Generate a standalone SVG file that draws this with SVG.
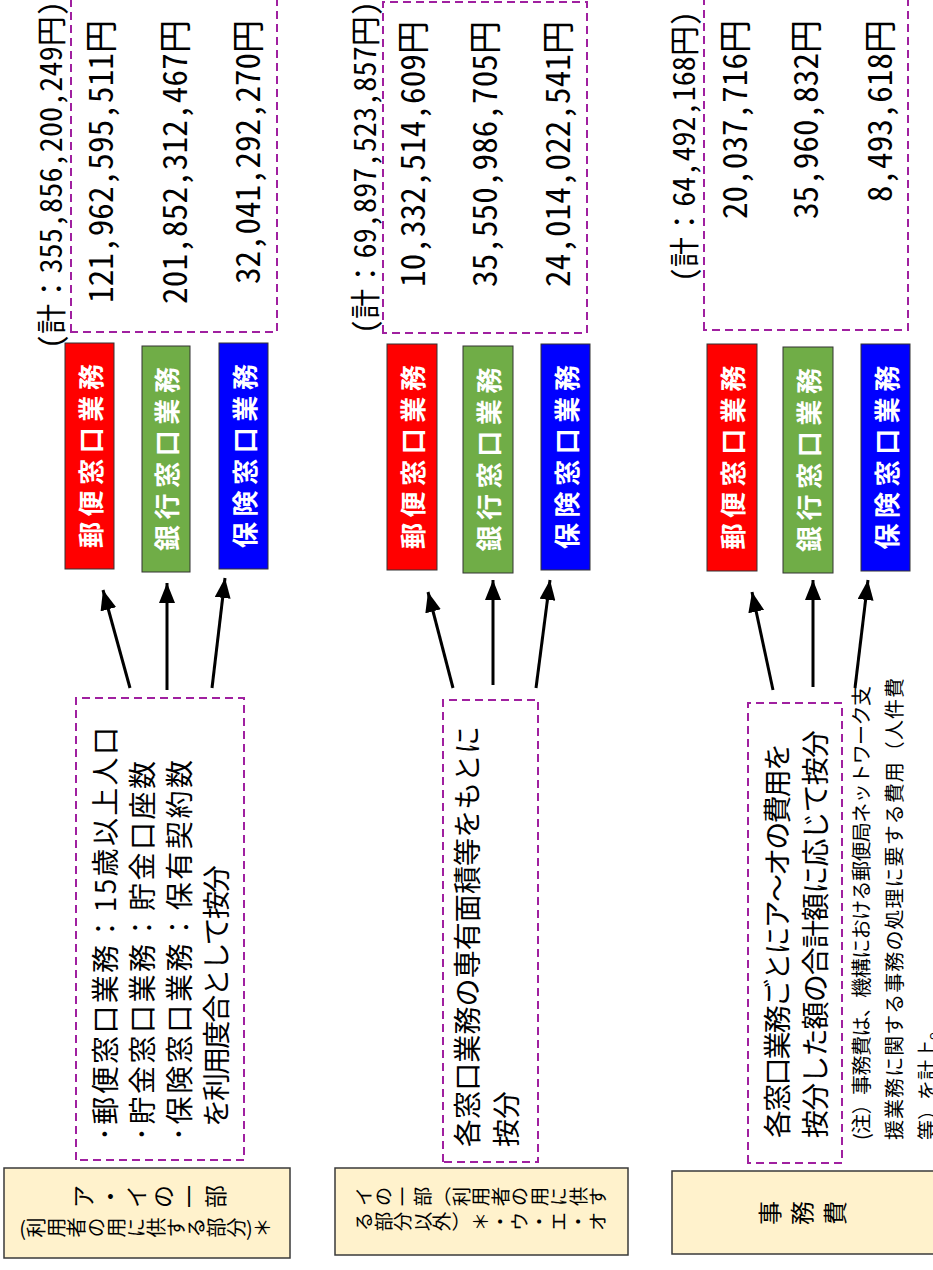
<svg xmlns="http://www.w3.org/2000/svg" width="933" height="1270" viewBox="0 0 933 1270">
<defs>
<style>
text{font-family:'Noto Sans CJK JP','Noto Sans CJK SC',sans-serif;fill:#000}
.beige{fill:#FFF2CC;stroke:#3a3a3a;stroke-width:1.5}
.dash{fill:none;stroke:#A020A0;stroke-width:2;stroke-dasharray:8 5}
.box{stroke:#333;stroke-width:1}
.lbl{font-weight:bold;font-size:26px;fill:#fff}
.num{font-size:33px;font-feature-settings:"hwid" 1}
.tot{font-size:30px;font-feature-settings:"hwid" 1}
.fw{font-feature-settings:normal}
.m{font-size:28px}
.note{font-size:20px}
.v{writing-mode:vertical-rl}
.arr{stroke:#000;stroke-width:3;fill:none;marker-end:url(#ah)}
</style>
<marker id="ah" viewBox="0 0 20 16" markerWidth="20" markerHeight="16" refX="20" refY="8" orient="auto" markerUnits="userSpaceOnUse"><path d="M0,0 L20,8 L0,16 z" fill="#000"/></marker>
</defs>
<rect width="933" height="1270" fill="#fff"/>
<g transform="translate(0,1270) rotate(-90)">

<!-- Panel 1 -->
<g id="p1-source">
<rect class="beige" x="12" y="4" width="90" height="286"/>
<text x="73.5 73.5 73.5 73.5 73.5 73.5" y="92.2 118.7 145.2 171.7 197.7 224.2" text-anchor="middle" style="font-size:23px">ア・イの一部</text>
<text class="v" x="42.5" y="146" text-anchor="middle" style="font-size:20px">(利用者の用に供する部分)＊</text>
</g>
<g id="p1-method">
<rect class="dash" x="110" y="76" width="462" height="168"/>
<text class="m" x="129" y="116" textLength="414" lengthAdjust="spacing">･郵便窓口業務：15歳以上人口</text>
<text class="m" x="129" y="153" textLength="380" lengthAdjust="spacing">･貯金窓口業務：貯金口座数</text>
<text class="m" x="129" y="190" textLength="381" lengthAdjust="spacing">･保険窓口業務：保有契約数</text>
<text class="m" x="143" y="227" textLength="262" lengthAdjust="spacing">を利用度合として按分</text>
</g>
<g id="p1-post"><rect class="box" x="701" y="65" width="226" height="49" fill="#FF0000"/><text class="lbl" x="814" y="100.5" text-anchor="middle" textLength="184">郵便窓口業務</text></g>
<g id="p1-bank"><rect class="box" x="698" y="142" width="226" height="48" fill="#70AD47"/><text class="lbl" x="811" y="177" text-anchor="middle" textLength="184">銀行窓口業務</text></g>
<g id="p1-ins"><rect class="box" x="701" y="219" width="226" height="49" fill="#0000FF"/><text class="lbl" x="814" y="254.5" text-anchor="middle" textLength="184">保険窓口業務</text></g>
<g id="p1-amounts">
<rect class="dash" x="938" y="71" width="350" height="206"/>
<text class="tot" x="1269" y="62" text-anchor="end" textLength="348">(<tspan class="fw">計：</tspan>355,856,200,249<tspan class="fw">円</tspan>)</text>
<text class="num" x="1250" y="113" text-anchor="end" textLength="283">121,962,595,511円</text>
<text class="num" x="1250" y="187" text-anchor="end" textLength="284">201,852,312,467円</text>
<text class="num" x="1250" y="260" text-anchor="end" textLength="264">32,041,292,270円</text>
</g>

<!-- Panel 2 -->
<g id="p2-source">
<rect class="beige" x="15" y="335" width="87" height="293"/>
<text class="v" x="73.5" y="481" text-anchor="middle" style="font-size:19.5px">イの一部（利用者の用に供す</text>
<text class="v" x="48.5" y="481" text-anchor="middle" style="font-size:19.5px">る部分以外）＊・ウ・エ・オ</text>
</g>
<g id="p2-method">
<rect class="dash" x="108" y="443" width="462" height="95"/>
<text class="m" x="123" y="478" textLength="421" lengthAdjust="spacing">各窓口業務の専有面積等をもとに</text>
<text class="m" x="123" y="517">按分</text>
</g>
<g id="p2-post"><rect class="box" x="700" y="387" width="226" height="50" fill="#FF0000"/><text class="lbl" x="813" y="423" text-anchor="middle" textLength="184">郵便窓口業務</text></g>
<g id="p2-bank"><rect class="box" x="697" y="463" width="227" height="50" fill="#70AD47"/><text class="lbl" x="810.5" y="499" text-anchor="middle" textLength="184">銀行窓口業務</text></g>
<g id="p2-ins"><rect class="box" x="700" y="541" width="226" height="49" fill="#0000FF"/><text class="lbl" x="813" y="576.5" text-anchor="middle" textLength="184">保険窓口業務</text></g>
<g id="p2-amounts">
<rect class="dash" x="937" y="383" width="331" height="204"/>
<text class="tot" x="1269" y="376" text-anchor="end" textLength="333">(<tspan class="fw">計：</tspan>69,897,523,857<tspan class="fw">円</tspan>)</text>
<text class="num" x="1249" y="425" text-anchor="end" textLength="266">10,332,514,609円</text>
<text class="num" x="1249" y="497" text-anchor="end" textLength="266">35,550,986,705円</text>
<text class="num" x="1249" y="570" text-anchor="end" textLength="266">24,014,022,541円</text>
</g>

<!-- Panel 3 -->
<g id="p3-source">
<rect class="beige" x="16" y="672" width="83" height="268"/>
<text x="57 57 57" y="779.1 811.1 844.1" text-anchor="middle" style="font-size:24px">事務費</text>
</g>
<g id="p3-method">
<rect class="dash" x="107" y="748" width="460" height="94"/>
<text class="m" x="132" y="788" textLength="395" lengthAdjust="spacing">各窓口業務ごとにア～オの費用を</text>
<text class="m" x="132" y="826" textLength="408" lengthAdjust="spacing">按分した額の合計額に応じて按分</text>
</g>
<g id="p3-note">
<text class="note" x="130" y="869" textLength="454" lengthAdjust="spacing">(注）事務費は、機構における郵便局ネットワーク支</text>
<text class="note" x="130" y="902" textLength="462" lengthAdjust="spacing">援業務に関する事務の処理に要する費用（人件費</text>
<text class="note" x="130" y="935">等）を計上。</text>
</g>
<g id="p3-post"><rect class="box" x="699" y="707" width="227" height="50" fill="#FF0000"/><text class="lbl" x="812.5" y="743" text-anchor="middle" textLength="184">郵便窓口業務</text></g>
<g id="p3-bank"><rect class="box" x="697" y="783" width="226" height="50" fill="#70AD47"/><text class="lbl" x="810" y="819" text-anchor="middle" textLength="184">銀行窓口業務</text></g>
<g id="p3-ins"><rect class="box" x="699" y="861" width="227" height="49" fill="#0000FF"/><text class="lbl" x="812.5" y="896.5" text-anchor="middle" textLength="184">保険窓口業務</text></g>
<g id="p3-amounts">
<rect class="dash" x="940" y="704" width="350" height="204"/>
<text class="tot" x="1259" y="695" text-anchor="end" textLength="271">(<tspan class="fw">計：</tspan>64,492,168<tspan class="fw">円</tspan>)</text>
<text class="num" x="1250" y="747" text-anchor="end" textLength="199">20,037,716円</text>
<text class="num" x="1250" y="818" text-anchor="end" textLength="199">35,960,832円</text>
<text class="num" x="1250" y="892" text-anchor="end" textLength="182">8,493,618円</text>
</g>

<g id="connectors">
<line class="arr" x1="582" y1="130" x2="680" y2="103"/>
<line class="arr" x1="580" y1="167" x2="687" y2="167"/>
<line class="arr" x1="582" y1="212" x2="692" y2="225"/>
<line class="arr" x1="582" y1="453" x2="678" y2="428"/>
<line class="arr" x1="585" y1="493" x2="690" y2="493"/>
<line class="arr" x1="582" y1="536" x2="690" y2="550"/>
<line class="arr" x1="580" y1="773" x2="678" y2="752"/>
<line class="arr" x1="583" y1="813" x2="690" y2="813"/>
<line class="arr" x1="582" y1="855" x2="690" y2="868"/>
</g>
</g>
</svg>
